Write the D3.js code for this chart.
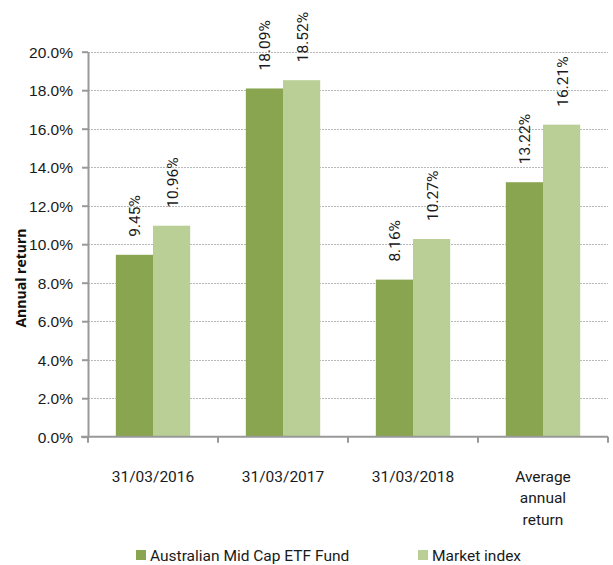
<!DOCTYPE html>
<html>
<head>
<meta charset="utf-8">
<script src="https://cdn.jsdelivr.net/npm/d3@7"></script>
<style>
  html, body { margin: 0; padding: 0; background: #fff; }
  svg { display: block; font-family: Roboto, "Noto Sans", sans-serif; }
  .tickLab { font-size: 15.5px; fill: #1a1a1a; }
  .valLab { font-size: 15.5px; fill: #1a1a1a; }
  .axisTitle { font-family: "Open Sans", "DejaVu Sans", sans-serif; font-size: 14px; font-weight: 700; fill: #111; }
</style>
</head>
<body>
<svg id="chart" width="613" height="565"></svg>
<script>
const categories = ["31/03/2016", "31/03/2017", "31/03/2018", "Average annual return"];
const seriesNames = ["Australian Mid Cap ETF Fund", "Market index"];
const fundValues = [9.45, 18.09, 8.16, 13.22];
const indexValues = [10.96, 18.52, 10.27, 16.21];
const yTicks = [0, 2, 4, 6, 8, 10, 12, 14, 16, 18, 20];
const colors = ["#8aa54f", "#b9cf96"];

const svg = d3.select("#chart");
const plot = { left: 88, right: 608, top: 51.7, bottom: 436.7 };

const y = d3.scaleLinear().domain([0, 20]).range([plot.bottom, plot.top]);
const x0 = d3.scaleBand().domain(categories).range([plot.left, plot.right])
  .paddingInner(0.428).paddingOuter(0.214);
const x1 = d3.scaleBand().domain(seriesNames).range([0, x0.bandwidth()]);
const step = x0.step();

// gridlines
svg.append("g").selectAll("line")
  .data(yTicks.filter(d => d > 0))
  .enter().append("line")
  .attr("x1", plot.left).attr("x2", plot.right)
  .attr("y1", d => Math.round(y(d)) + 0.5).attr("y2", d => Math.round(y(d)) + 0.5)
  .attr("stroke", "#b8b8b8").attr("stroke-width", 1).attr("stroke-dasharray", "2,1");

// bars
const rows = categories.map((c, i) => ({ cat: c, vals: [fundValues[i], indexValues[i]] }));
const grp = svg.append("g").selectAll("g")
  .data(rows).enter().append("g")
  .attr("transform", d => `translate(${x0(d.cat)},0)`);

grp.selectAll("rect")
  .data(d => d.vals.map((v, j) => ({ v, s: seriesNames[j], j })))
  .enter().append("rect")
  .attr("x", d => x1(d.s))
  .attr("y", d => y(d.v))
  .attr("width", x1.bandwidth())
  .attr("height", d => plot.bottom - y(d.v))
  .attr("fill", d => colors[d.j]);

grp.selectAll("text")
  .data(d => d.vals.map((v, j) => ({ v, s: seriesNames[j], j })))
  .enter().append("text")
  .attr("class", "valLab")
  .attr("transform", d => `translate(${x1(d.s) + x1.bandwidth() / 2 + 6},${y(d.v) - 18}) rotate(-90)`)
  .attr("text-anchor", "start")
  .text(d => d.v.toFixed(2) + "%");

// y axis
const yAxis = svg.append("g")
  .attr("transform", `translate(${plot.left},0)`)
  .call(d3.axisLeft(y).tickValues(yTicks).tickSize(6).tickSizeOuter(0).tickPadding(9)
    .tickFormat(d => d.toFixed(1) + "%"));
yAxis.select(".domain").attr("stroke", "#999").attr("stroke-width", 2);
yAxis.selectAll(".tick line").attr("stroke", "#999").attr("stroke-width", 2);
yAxis.selectAll(".tick text").attr("class", "tickLab").attr("font-family", null).attr("font-size", null)
  .attr("fill", null).attr("dy", "0.36em");

// x axis
const xAxis = svg.append("g").attr("transform", `translate(0,${plot.bottom})`);
xAxis.append("line")
  .attr("x1", plot.left - 7).attr("x2", plot.right)
  .attr("y1", 0).attr("y2", 0)
  .attr("stroke", "#999").attr("stroke-width", 2);
xAxis.selectAll("line.tk")
  .data(d3.range(categories.length + 1))
  .enter().append("line")
  .attr("class", "tk")
  .attr("x1", i => plot.left + i * step).attr("x2", i => plot.left + i * step)
  .attr("y1", 0).attr("y2", 6)
  .attr("stroke", "#999").attr("stroke-width", 2);

const catLines = c => c === "Average annual return" ? ["Average", "annual", "return"] : [c];
xAxis.selectAll("text.tickLab")
  .data(categories).enter().append("text")
  .attr("class", "tickLab")
  .attr("text-anchor", "middle")
  .each(function (c) {
    const t = d3.select(this);
    catLines(c).forEach((ln, li) => {
      t.append("tspan")
        .attr("x", x0(c) + x0.bandwidth() / 2)
        .attr("y", 45 + li * 21.5)
        .text(ln);
    });
  });

// y axis title
svg.append("text")
  .attr("class", "axisTitle")
  .attr("transform", `translate(26,278) rotate(-90)`)
  .attr("text-anchor", "middle")
  .text("Annual return");

// legend
const legendX = [136, 418];
const leg = svg.append("g").selectAll("g")
  .data(seriesNames).enter().append("g")
  .attr("transform", (d, i) => `translate(${legendX[i]},550)`);
leg.append("rect").attr("width", 10).attr("height", 10).attr("fill", (d, i) => colors[i]);
leg.append("text").attr("class", "tickLab").attr("x", 14).attr("y", 11).text(d => d);
</script>
</body>
</html>
